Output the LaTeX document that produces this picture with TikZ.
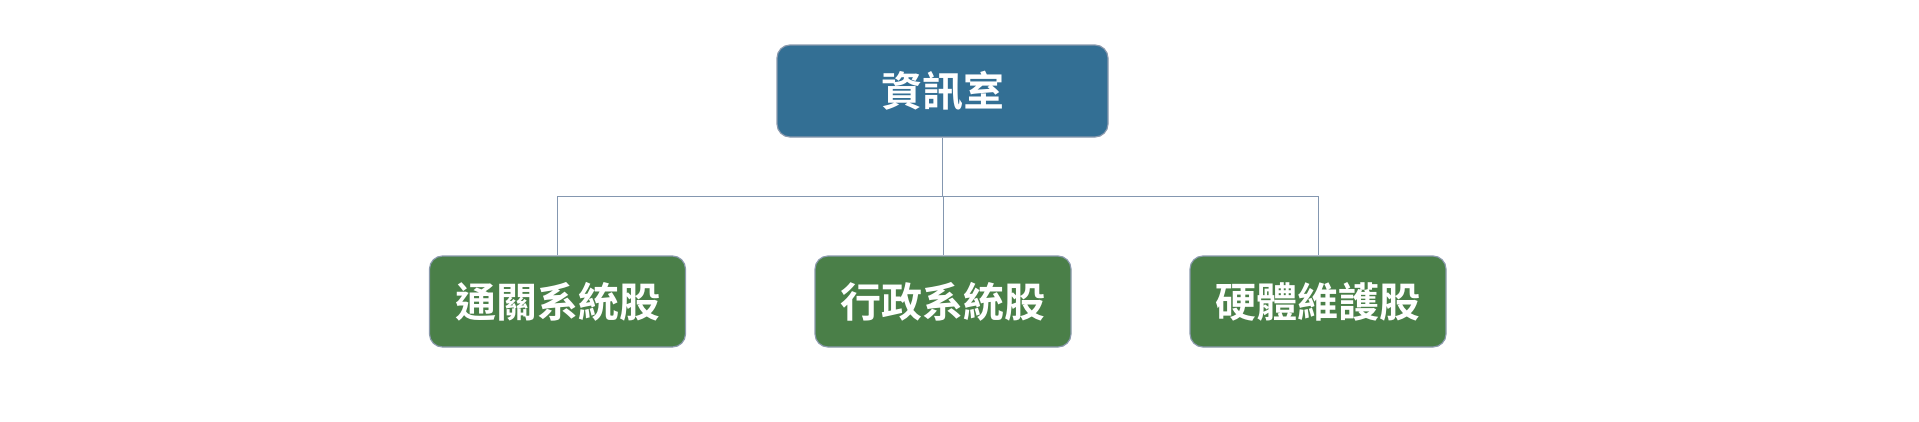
\documentclass[tikz,border=0pt]{standalone}
\usepackage{fontspec}
\newfontfamily\cjk{Noto Sans CJK TC}[BoldFont={* Bold}]
\usetikzlibrary{positioning}

\definecolor{headblue}{HTML}{336F94}
\definecolor{unitgreen}{HTML}{4A7F48}
\definecolor{rimgray}{HTML}{8A99AD}
\definecolor{linkgray}{HTML}{8497B0}

\tikzset{
	box/.style={draw=rimgray, line width=1.2pt, rounded corners=13pt, text=white,
		font=\cjk\bfseries\fontsize{41}{44}\selectfont, inner sep=0pt},
	headbox/.style={box, fill=headblue, minimum width=331pt, minimum height=92pt},
	unitbox/.style={box, fill=unitgreen, minimum width=256pt, minimum height=91pt},
	link/.style={draw=linkgray, line width=1pt},
}

\begin{document}
\begin{tikzpicture}[x=1pt, y=-1pt]
	\useasboundingbox (0,0) rectangle (1919,421);
	%\fill[gray] (0,0) rectangle (1919,421);
	\node[headbox] (office) at (942.5, 91) {資訊室};
	\node[unitbox] (customs) at (557.5, 301.5) {通關系統股};
	\node[unitbox] (admin) at (943, 301.5) {行政系統股};
	\node[unitbox] (hardware) at (1318, 301.5) {硬體維護股};
	\coordinate (bus) at (0,196);
	\draw[link] (office.south) -- (office.south |- bus);
	\draw[link] (customs.north) |- (hardware.north |- bus) -- (hardware.north);
	\draw[link] (admin.north |- bus) -- (admin.north);
\end{tikzpicture}
\end{document}
